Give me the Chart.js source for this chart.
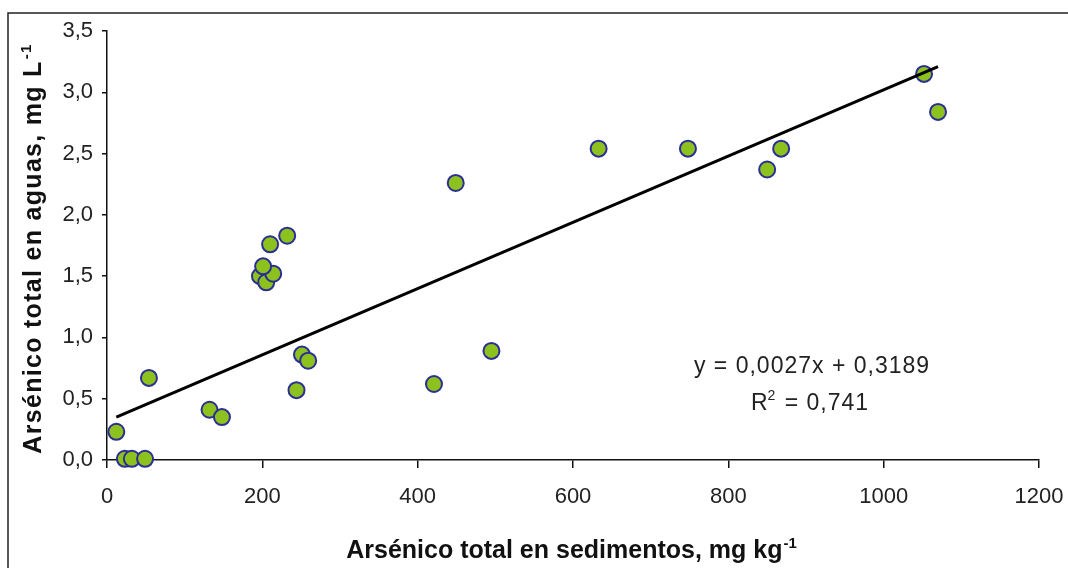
<!DOCTYPE html>
<html>
<head>
<meta charset="utf-8">
<script src="https://cdn.jsdelivr.net/npm/chart.js@4/dist/chart.umd.min.js"></script>
<style>
  html, body { margin: 0; padding: 0; background: #fff; }
  #wrap { width: 1068px; height: 568px; position: relative; }
</style>
</head>
<body>
<div id="wrap"><canvas id="c" width="1068" height="568"></canvas></div>
<script>
// As total en sedimentos (mg/kg) vs As total en aguas (mg/L)
const sedimentos = [12, 23, 32, 49, 54, 132, 148, 244, 251, 259, 197, 205, 214, 201, 210, 232, 449, 495, 421, 633, 748, 850, 868, 1052, 1070];
const aguas      = [0.23, 0.01, 0.01, 0.01, 0.67, 0.41, 0.35, 0.57, 0.86, 0.81, 1.50, 1.45, 1.52, 1.58, 1.76, 1.83, 2.26, 0.89, 0.62, 2.54, 2.54, 2.37, 2.54, 3.15, 2.84];

// linea de tendencia (extremos)
const trendX = [12, 1070];
const trendY = [0.35, 3.21];

const eqText = 'y = 0,0027x + 0,3189';
const r2Text = ['R', '2', ' = 0,741'];
const xTitle = ['Arsénico total en sedimentos, mg kg', '-1'];
const yTitle = ['Arsénico total en aguas, mg L', '-1'];

const fontFam = '"Liberation Sans", Arial, sans-serif';

// dibuja texto con superindice, centrado en cx
function supText(ctx, main, sup, cx, baseY, size, supSize, weight) {
  ctx.font = `${weight} ${size}px ${fontFam}`;
  const w1 = ctx.measureText(main).width;
  ctx.font = `${weight} ${supSize}px ${fontFam}`;
  const w2 = ctx.measureText(sup).width;
  const x0 = cx - (w1 + w2) / 2;
  ctx.textAlign = 'left';
  ctx.textBaseline = 'alphabetic';
  ctx.font = `${weight} ${size}px ${fontFam}`;
  ctx.fillText(main, x0, baseY);
  ctx.font = `${weight} ${supSize}px ${fontFam}`;
  ctx.fillText(sup, x0 + w1 + 1, baseY - size * 0.42);
}

const decor = {
  id: 'decor',
  beforeDraw(chart) {
    const ctx = chart.ctx;
    ctx.save();
    ctx.fillStyle = '#fff';
    ctx.fillRect(0, 0, chart.width, chart.height);
    // marco
    ctx.strokeStyle = '#222';
    ctx.lineWidth = 1.5;
    ctx.beginPath();
    ctx.moveTo(8, 568);
    ctx.lineTo(8, 13);
    ctx.lineTo(1068, 13);
    ctx.stroke();
    ctx.restore();
  },
  afterDraw(chart) {
    const ctx = chart.ctx;
    ctx.save();
    ctx.fillStyle = '#111';
    // titulo eje x
    supText(ctx, xTitle[0], xTitle[1], 571, 558, 25, 15, 'bold');
    // titulo eje y
    ctx.translate(41, 249);
    ctx.rotate(-Math.PI / 2);
    ctx.letterSpacing = '1.3px';
    supText(ctx, yTitle[0], yTitle[1], 0, 0, 25, 15, 'bold');
    ctx.restore();

    // ecuacion
    ctx.save();
    ctx.fillStyle = '#222';
    ctx.letterSpacing = '1px';
    ctx.font = `23px ${fontFam}`;
    ctx.textAlign = 'center';
    ctx.textBaseline = 'alphabetic';
    ctx.fillText(eqText, 812, 373);
    const wR = ctx.measureText(r2Text[0]).width;
    const wRest = ctx.measureText(r2Text[2]).width;
    ctx.font = `14px ${fontFam}`;
    const wS = ctx.measureText(r2Text[1]).width;
    let x0 = 810 - (wR + wS + wRest) / 2;
    ctx.textAlign = 'left';
    ctx.font = `23px ${fontFam}`;
    ctx.fillText(r2Text[0], x0, 410);
    ctx.font = `14px ${fontFam}`;
    ctx.fillText(r2Text[1], x0 + wR - 1, 400);
    ctx.font = `23px ${fontFam}`;
    ctx.fillText(r2Text[2], x0 + wR + wS, 410);
    ctx.restore();
  }
};

const comma = v => v.toFixed(1).replace('.', ',');

new Chart(document.getElementById('c'), {
  type: 'scatter',
  data: {
    datasets: [
      {
        type: 'line',
        data: trendX.map((x, i) => ({ x, y: trendY[i] })),
        borderColor: '#000',
        borderWidth: 3,
        pointRadius: 0,
        fill: false,
        order: 0,
      },
      {
        data: sedimentos.map((x, i) => ({ x, y: aguas[i] })),
        backgroundColor: '#8DC21E',
        borderColor: '#2B2E92',
        borderWidth: 2,
        pointRadius: 8,
        order: 1,
      }
    ]
  },
  options: {
    responsive: false,
    animation: false,
    clip: false,
    layout: { padding: { top: 31, right: 29, left: 0, bottom: 0 } },
    plugins: { legend: { display: false }, tooltip: { enabled: false } },
    scales: {
      x: {
        type: 'linear', min: 0, max: 1200,
        border: { color: '#111', width: 1.5 },
        grid: { drawOnChartArea: false, drawTicks: true, tickLength: 8, color: '#111', lineWidth: 1.5 },
        ticks: { stepSize: 200, padding: 16, color: '#222', font: { family: fontFam, size: 22 }, callback: v => String(v) },
        afterFit: s => { s.height = 108; s.paddingLeft = 0; s.paddingRight = 0; }
      },
      y: {
        type: 'linear', min: 0, max: 3.5,
        border: { color: '#111', width: 1.5 },
        grid: { drawOnChartArea: false, drawTicks: true, tickLength: 5, color: '#111', lineWidth: 1.5 },
        ticks: { stepSize: 0.5, padding: 9, color: '#222', font: { family: fontFam, size: 22 }, callback: comma },
        afterFit: s => { s.width = 107; s.paddingTop = 0; s.paddingBottom = 0; }
      }
    }
  },
  plugins: [decor]
});
</script>
</body>
</html>
